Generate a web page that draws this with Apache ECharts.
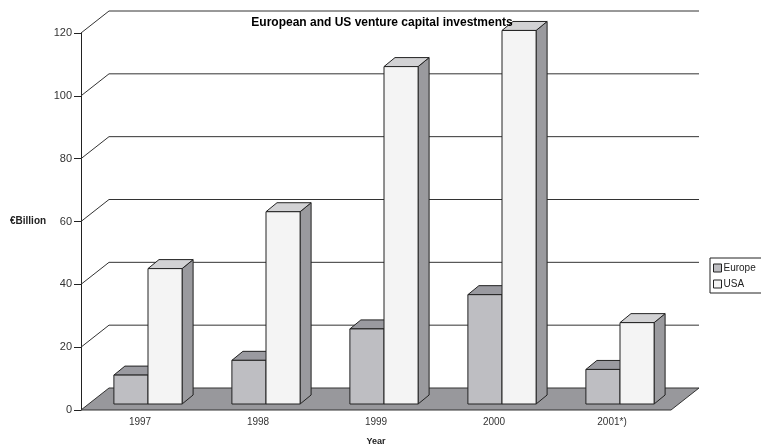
<!DOCTYPE html>
<html>
<head>
<meta charset="utf-8">
<script src="https://cdn.jsdelivr.net/npm/echarts@6/dist/echarts.min.js"></script>
<style>
html,body{margin:0;padding:0;background:#fff;overflow:hidden;}
#chart{width:761px;height:445px;}
</style>
</head>
<body>
<div id="chart"></div>
<script>
var categories = ['1997', '1998', '1999', '2000', '2001*)'];
var europe = [9.2, 13.9, 23.9, 34.8, 11.0];
var usa = [43.1, 61.2, 107.4, 118.9, 25.9];
var yTicks = [0, 20, 40, 60, 80, 100, 120];

var FONT = 'Liberation Sans, Arial, sans-serif';
var WALL = [28, -22];      // floor/wall depth offset
var BAR_FRONT = [8, -6];   // bar front plane offset
var BAR_DEPTH = [11, -9];  // bar depth
var BAR_RATIO = 0.289;     // bar width relative to band

var chart = echarts.init(document.getElementById('chart'), null, {renderer: 'canvas', width: 761, height: 445});

function wallsRender(params, api) {
  var cs = params.coordSys;
  var v = api.value(0);
  var p = api.coord([0, v]);
  var y = p[1];
  var x0 = cs.x, x1 = cs.x + cs.width;
  var children = [];
  if (v === 0) {
    children.push({
      type: 'polygon',
      shape: {points: [[x0, y], [x1, y], [x1 + WALL[0], y + WALL[1]], [x0 + WALL[0], y + WALL[1]]]},
      style: {fill: '#98989c', stroke: '#333', lineWidth: 1}
    });
  } else {
    children.push({
      type: 'polyline',
      shape: {points: [[x0, y], [x0 + WALL[0], y + WALL[1]], [x1 + WALL[0], y + WALL[1]]]},
      style: {stroke: '#333', lineWidth: 1, fill: null}
    });
  }
  return {type: 'group', children: children};
}

function makeBarRender(side, colors) {
  return function (params, api) {
    var idx = api.value(0);
    var val = api.value(1);
    var base = api.coord([idx, 0]);
    var top = api.coord([idx, val]);
    var band = api.size([1, 0])[0];
    var w = band * BAR_RATIO;
    var cx = base[0] + BAR_FRONT[0];
    var xl = side === 0 ? cx - w : cx;
    var xr = xl + w;
    var yb = base[1] + BAR_FRONT[1];
    var yt = top[1] + BAR_FRONT[1];
    var dx = BAR_DEPTH[0], dy = BAR_DEPTH[1];
    var st = {stroke: '#222', lineWidth: 1};
    return {
      type: 'group',
      children: [
        {type: 'polygon', shape: {points: [[xr, yb], [xr + dx, yb + dy], [xr + dx, yt + dy], [xr, yt]]},
          style: Object.assign({fill: colors.side}, st)},
        {type: 'polygon', shape: {points: [[xl, yt], [xr, yt], [xr + dx, yt + dy], [xl + dx, yt + dy]]},
          style: Object.assign({fill: colors.top}, st)},
        {type: 'rect', shape: {x: xl, y: yt, width: w, height: yb - yt},
          style: Object.assign({fill: colors.front}, st)}
      ]
    };
  };
}

var europeColors = {front: '#bebec2', top: '#9a9aa0', side: '#9a9aa0'};
var usaColors = {front: '#f4f4f4', top: '#d2d2d4', side: '#9a9a9e'};

var option = {
  backgroundColor: '#ffffff',
  animation: false,
  title: {
    text: 'European and US venture capital investments',
    left: 377, top: 12, textAlign: 'center',
    textStyle: {fontFamily: FONT, fontSize: 12, fontWeight: 'bold', color: '#000'}
  },
  legend: {
    orient: 'vertical',
    left: 710, top: 258,
    itemWidth: 8, itemHeight: 8, itemGap: 6,
    padding: [5, 20, 4, 3],
    borderColor: '#222', borderWidth: 1,
    icon: 'rect',
    textStyle: {fontFamily: FONT, fontSize: 10, color: '#222', padding: [0, 0, 0, -3]},
    data: [
      {name: 'Europe', itemStyle: {color: europeColors.front, borderColor: '#222', borderWidth: 1}},
      {name: 'USA', itemStyle: {color: usaColors.front, borderColor: '#222', borderWidth: 1}}
    ]
  },
  grid: {left: 81, width: 590, top: 33, height: 377, containLabel: false, outerBoundsMode: 'none'},
  xAxis: {
    type: 'category',
    data: categories,
    name: 'Year',
    nameLocation: 'middle',
    nameGap: 27,
    nameTextStyle: {fontFamily: FONT, fontSize: 9, fontWeight: 'bold', color: '#222'},
    axisLine: {show: false},
    axisTick: {show: false},
    axisLabel: {fontFamily: FONT, fontSize: 10, color: '#333', margin: 7},
    splitLine: {show: false},
    z: 10
  },
  yAxis: {
    type: 'value',
    min: 0, max: 120, interval: 20,
    axisLine: {show: true, lineStyle: {color: '#222', width: 1}},
    axisTick: {show: true, length: 7, lineStyle: {color: '#222'}},
    axisLabel: {fontFamily: FONT, fontSize: 11, color: '#333', margin: 9},
    splitLine: {show: false}
  },
  graphic: [{
    type: 'text', left: 10, top: 216,
    style: {text: '€Billion', font: 'bold 10px ' + FONT, fill: '#222'}
  }],
  series: [
    {
      type: 'custom', name: 'walls', silent: true,
      renderItem: wallsRender,
      data: yTicks.map(function (t) { return [t]; }),
      encode: {y: 0},
      z: 1
    },
    {
      type: 'custom', name: 'Europe',
      itemStyle: {color: europeColors.front},
      renderItem: makeBarRender(0, europeColors),
      data: europe.map(function (v, i) { return [i, v]; }),
      encode: {x: 0, y: 1},
      z: 2
    },
    {
      type: 'custom', name: 'USA',
      itemStyle: {color: usaColors.front},
      renderItem: makeBarRender(1, usaColors),
      data: usa.map(function (v, i) { return [i, v]; }),
      encode: {x: 0, y: 1},
      z: 3
    }
  ]
};
chart.setOption(option);
</script>
</body>
</html>
